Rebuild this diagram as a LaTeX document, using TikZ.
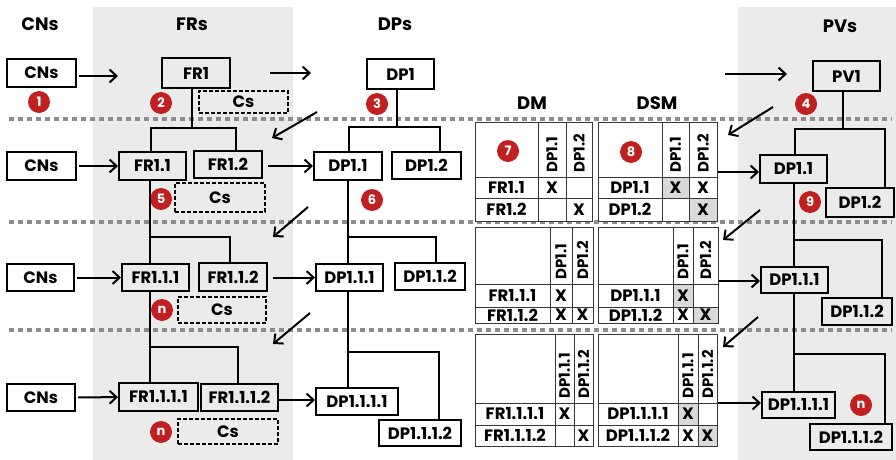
\documentclass[tikz,border=0pt]{standalone}
\usepackage{fontspec}
\setmainfont{Poppins}
\usetikzlibrary{arrows.meta}

\definecolor{panel}{RGB}{235,235,235}
\definecolor{sepgrey}{RGB}{140,140,140}
\definecolor{badgered}{RGB}{192,32,32}
\definecolor{cellgrey}{RGB}{217,217,217}
\definecolor{gridline}{RGB}{55,55,55}

\tikzset{
  txt/.style={font=\fontsize{16.5}{16.5}\selectfont\bfseries},
  box/.style={draw, line width=2pt, inner sep=0pt, txt},
  csbox/.style={box, dash pattern=on 4pt off 2pt},
  title/.style={font=\fontsize{18}{18}\selectfont\bfseries, inner sep=0pt},
  badge/.style={circle, fill=badgered, text=white, minimum size=22pt, inner sep=0pt,
    font=\fontsize{13}{13}\selectfont\bfseries},
  tree/.style={line width=2pt},
  arr/.style={line width=2pt, -{Straight Barb[length=7pt,width=13pt]}},
  sepline/.style={draw=sepgrey, line width=4.3pt, dash pattern=on 4.5pt off 4.5pt},
  mline/.style={draw=gridline, line width=1pt},
  cell/.style={txt, inner sep=0pt},
  head/.style={font=\fontsize{15}{15}\selectfont\bfseries, rotate=90, anchor=west, inner sep=0pt},
}

% box given by its corners: [style]{name}{x0}{y0}{x1}{y1}{text}
\newcommand\corbox[7][box]{%
  \pgfmathsetmacro\cbX{(#3+#5)/2}\pgfmathsetmacro\cbY{(#4+#6)/2}%
  \pgfmathsetmacro\cbW{#5-#3}\pgfmathsetmacro\cbH{#6-#4}%
  \node[#1, minimum width=\cbW pt, minimum height=\cbH pt] (#2) at (\cbX,\cbY) {#7};}

% 3x3 grid of a matrix: x0 c1 c2 x3 y0 r1 r2 y3
\newcommand\mgrid[8]{%
  \fill[white] (#1,#5) rectangle (#4,#8);
  \draw[mline] (#1,#5) rectangle (#4,#8) (#2,#5) -- (#2,#8) (#3,#5) -- (#3,#8)
    (#1,#6) -- (#4,#6) (#1,#7) -- (#4,#7);}

\begin{document}
\begin{tikzpicture}[x=1pt,y=-1pt]
\useasboundingbox (0,0) rectangle (896,460);

% shaded columns
\fill[panel] (93,7) rectangle (293,460);
\fill[panel] (738,7) rectangle (896,460);

% level separators
\draw[sepline] (9,119) -- (892,119);
\draw[sepline] (9,222) -- (892,222);
\draw[sepline] (9,330) -- (892,330);

% column titles
\node[title] (tcn) at (40,24) {CNs};
\node[title] (tfr) at (192,24) {FRs};
\node[title] (tdp) at (395,24) {DPs};
\node[title] (tpv) at (840,26) {PVs};
\node[title] (tdm) at (532,103) {DM};
\node[title] (tdsm) at (657,103) {DSM};

% ---------- level 1 ----------
\corbox{cn1}{7}{59}{76}{87}{CNs}
\corbox{fr1}{162}{58}{230}{88}{FR1}
\corbox[csbox]{cs1}{199}{91}{288}{113}{Cs}
\corbox{dp1}{367}{59}{434}{89}{DP1}
\corbox{pv1}{813}{61}{880}{91}{PV1}

\coordinate (a1e) at (118,76);
\coordinate (a2s) at (270,73);
\coordinate (a2e) at (311,73);
\coordinate (a3s) at (725,74);
\coordinate (a3e) at (787,74);
\draw[arr] (cn1.east |- a1e) ++(2,0) -- (a1e);
\draw[arr] (a2s) -- (a2e);
\draw[arr] (a3s) -- (a3e);

\node[badge] (b1) at (39,102) {1};
\node[badge] (b2) at (161,103) {2};
\node[badge] (b3) at (377,104) {3};
\node[badge] (b4) at (806,104) {4};

% ---------- level 2 ----------
\corbox{cn2}{7}{152}{76}{180}{CNs}
\corbox{fr11}{119}{152}{186}{180}{FR1.1}
\corbox{fr12}{194}{151}{262}{178}{FR1.2}
\corbox[csbox]{cs2}{175}{183}{265}{212}{Cs}
\corbox{dp11}{314}{152}{382}{180}{DP1.1}
\corbox{dp12}{392}{152}{461}{179}{DP1.2}
\corbox{pv11}{760}{155}{827}{183}{DP1.1}
\corbox{pv12}{826}{188}{894}{217}{DP1.2}

\draw[tree] (fr1.south -| 192,0) -- (192,128);
\draw[tree] (fr11.north -| 151,0) |- (236,128) -- (fr12.north -| 236,0);
\draw[tree] (dp1.south -| 397,0) -- (397,127);
\draw[tree] (dp11.north -| 349,0) |- (440,127) -- (dp12.north -| 440,0);
\draw[tree] (pv1.south -| 843,0) -- (843,129);
\draw[tree] (pv11.north -| 795,0) |- (885,129) -- (pv12.north -| 885,0);

\draw[arr, shorten <=2pt] (cn2) -- (fr11);
\draw[arr] (fr12.east |- dp11.west) ++(5,0) -- (dp11.west);
\coordinate (m2out) at (718,172);
\draw[arr] (m2out) -- (pv11.west |- m2out);

\node[badge] (b5) at (161,199) {5};
\node[badge] (b6) at (372,200) {6};
\node[badge] (b9) at (810,202) {9};

% DM, level 2
\mgrid{475}{538}{566}{592}{122}{177}{198}{221}
\node[head] (dm2h1) at (552,173) {DP1.1};
\node[head] (dm2h2) at (579,173) {DP1.2};
\node[cell] (dm2r1) at (506.5,187.5) {FR1.1};
\node[cell] (dm2r2) at (506.5,209.5) {FR1.2};
\node[cell] (dm2x11) at (552,187.5) {X};
\node[cell] (dm2x22) at (579,209.5) {X};
\node[badge] (b7) at (508,151) {7};

% DSM, level 2
\mgrid{598}{662}{689}{717}{122}{177}{198}{221}
\fill[cellgrey] (662.5,177.5) rectangle (688.5,197.5);
\fill[cellgrey] (689.5,198.5) rectangle (716.5,220.5);
\node[head] (ds2h1) at (675.5,173) {DP1.1};
\node[head] (ds2h2) at (703,173) {DP1.2};
\node[cell] (ds2r1) at (630,187.5) {DP1.1};
\node[cell] (ds2r2) at (630,209.5) {DP1.2};
\node[cell] (ds2x11) at (675.5,187.5) {X};
\node[cell] (ds2x12) at (703,187.5) {X};
\node[cell] (ds2x22) at (703,209.5) {X};
\node[badge] (b8) at (631,152) {8};

% ---------- level 3 ----------
\corbox{cn3}{7}{264}{74}{291}{CNs}
\corbox{fr111}{122}{264}{189}{291}{FR1.1.1}
\corbox{fr112}{199}{263}{267}{291}{FR1.1.2}
\corbox[csbox]{cs3}{178}{297}{266}{323}{Cs}
\corbox{dp111}{316}{264}{383}{291}{DP1.1.1}
\corbox{dp112}{395}{263}{465}{290}{DP1.1.2}
\corbox{pv111}{761}{267}{828}{293}{DP1.1.1}
\corbox{pv112}{822}{298}{892}{325}{DP1.1.2}

\draw[tree] (fr11.south -| 150,0) -- (fr111.north -| 150,0);
\draw[tree] (150,237) -| (fr112.north -| 230,0);
\draw[tree] (dp11.south -| 348,0) -- (dp111.north -| 348,0);
\draw[tree] (348,237) -| (dp112.north -| 436,0);
\draw[tree] (pv11.south -| 794,0) -- (pv111.north -| 794,0);
\draw[tree] (794,240) -| (pv112.north -| 882,0);

\draw[arr, shorten <=2pt] (cn3) -- (fr111);
\draw[arr] (fr112.east |- dp111.west) ++(5,0) -- (dp111.west);
\coordinate (m3out) at (718,281);
\draw[arr] (m3out) -- (pv111.west |- m3out);

\node[badge] (bn1) at (162,310) {n};

% DM, level 3
\mgrid{475}{550}{572}{593}{227}{284}{307}{323}
\node[head] (dm3h1) at (561,280) {DP1.1};
\node[head] (dm3h2) at (582.5,280) {DP1.2};
\node[cell] (dm3r1) at (512.5,295.5) {FR1.1.1};
\node[cell] (dm3r2) at (512.5,315) {FR1.1.2};
\node[cell] (dm3x11) at (561,295.5) {X};
\node[cell] (dm3x21) at (561,315) {X};
\node[cell] (dm3x22) at (582.5,315) {X};

% DSM, level 3
\mgrid{598}{673}{693}{718}{227}{284}{307}{323}
\fill[cellgrey] (673.5,284.5) rectangle (692.5,306.5);
\fill[cellgrey] (693.5,307.5) rectangle (717.5,322.5);
\node[head] (ds3h1) at (683,280) {DP1.1};
\node[head] (ds3h2) at (705.5,280) {DP1.2};
\node[cell] (ds3r1) at (635.5,295.5) {DP1.1.1};
\node[cell] (ds3r2) at (635.5,315) {DP1.1.2};
\node[cell] (ds3x11) at (683,295.5) {X};
\node[cell] (ds3x21) at (683,315) {X};
\node[cell] (ds3x22) at (705.5,315) {X};

% ---------- level 4 ----------
\corbox{cn4}{7}{384}{75}{411}{CNs}
\corbox{fr1111}{119}{383}{198}{411}{FR1.1.1.1}
\corbox{fr1112}{201}{384}{278}{411}{FR1.1.1.2}
\corbox[csbox]{cs4}{178}{419}{278}{444}{Cs}
\corbox{dp1111}{316}{388}{398}{415}{DP1.1.1.1}
\corbox{dp1112}{379}{420}{461}{446}{DP1.1.1.2}
\corbox{pv1111}{762}{392}{835}{418}{DP1.1.1.1}
\corbox{pv1112}{810}{424}{892}{450}{DP1.1.1.2}

\draw[tree] (fr111.south -| 150,0) -- (fr1111.north -| 150,0);
\draw[tree] (150,347) -| (fr1112.north -| 238,0);
\draw[tree] (dp111.south -| 348,0) -- (dp1111.north -| 348,0);
\draw[tree] (348,352) -| (dp1112.north -| 439,0);
\draw[tree] (pv111.south -| 794,0) -- (pv1111.north -| 794,0);
\draw[tree] (794,354) -| (pv1112.north -| 885,0);

\draw[arr, shorten <=2pt] (cn4) -- (fr1111);
\draw[arr] (fr1112.east |- 0,400) -- (dp1111.west |- 0,400);
\coordinate (m4out) at (718,403);
\draw[arr] (m4out) -- (pv1111.west |- m4out);

\node[badge] (bn2) at (161,432) {n};
\node[badge] (bn3) at (861,405) {n};

% DM, level 4
\mgrid{475}{555}{574}{593}{334}{403}{425}{446}
\node[head] (dm4h1) at (564.5,399) {DP1.1.1};
\node[head] (dm4h2) at (583.5,399) {DP1.1.2};
\node[cell] (dm4r1) at (515,414) {FR1.1.1.1};
\node[cell] (dm4r2) at (515,435.5) {FR1.1.1.2};
\node[cell] (dm4x11) at (564.5,414) {X};
\node[cell] (dm4x22) at (583.5,435.5) {X};

% DSM, level 4
\mgrid{598}{678}{698}{717}{334}{403}{425}{446}
\fill[cellgrey] (678.5,403.5) rectangle (697.5,424.5);
\fill[cellgrey] (698.5,425.5) rectangle (716.5,445.5);
\node[head] (ds4h1) at (688,399) {DP1.1.1};
\node[head] (ds4h2) at (707.5,399) {DP1.1.2};
\node[cell] (ds4r1) at (638,414) {DP1.1.1.1};
\node[cell] (ds4r2) at (638,435.5) {DP1.1.1.2};
\node[cell] (ds4x11) at (688,414) {X};
\node[cell] (ds4x21) at (688,435.5) {X};
\node[cell] (ds4x22) at (707.5,435.5) {X};

% ---------- links between levels ----------
\coordinate (l1s) at (317,112); \coordinate (l1e) at (272,138);
\coordinate (l2s) at (308,207); \coordinate (l2e) at (273,237);
\coordinate (l3s) at (310,313); \coordinate (l3e) at (273,344);
\coordinate (r1s) at (773,107); \coordinate (r1e) at (728,135);
\coordinate (r2s) at (760,210); \coordinate (r2e) at (723,240);
\coordinate (r3s) at (758,317); \coordinate (r3e) at (723,347);
\draw[arr] (l1s) -- (l1e);
\draw[arr] (l2s) -- (l2e);
\draw[arr] (l3s) -- (l3e);
\draw[arr] (r1s) -- (r1e);
\draw[arr] (r2s) -- (r2e);
\draw[arr] (r3s) -- (r3e);
\end{tikzpicture}
\end{document}
